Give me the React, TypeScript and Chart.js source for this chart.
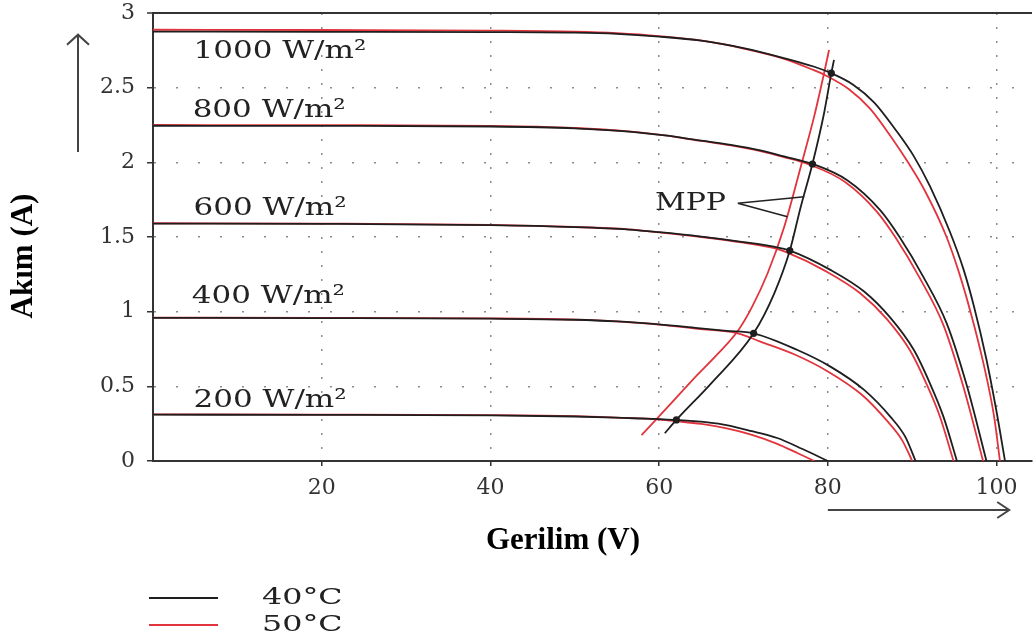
import React, { useEffect, useRef } from "react";
import { Chart, registerables } from "chart.js";

Chart.register(...registerables);

// ---------- data (V = voltage, I = current) ----------
// 40 °C curves
const v1000At40 = [0, 20, 40, 50, 55, 60, 65, 70, 75, 78.4, 80.4, 83, 85.5, 88, 90.2, 92.1, 94.5, 96.1, 97.3, 98.8, 100, 101];
const i1000At40 = [2.875, 2.874, 2.872, 2.868, 2.86, 2.842, 2.815, 2.765, 2.695, 2.64, 2.597, 2.52, 2.4, 2.22, 2.04, 1.84, 1.53, 1.28, 1.04, 0.68, 0.33, 0];
const v800At40 = [0, 20, 40, 50, 56.4, 60.7, 65, 68.5, 72, 74.8, 78.2, 82.3, 86.2, 88.5, 91.3, 94.1, 96.5, 98.8];
const i800At40 = [2.245, 2.244, 2.24, 2.228, 2.206, 2.18, 2.145, 2.117, 2.08, 2.04, 1.989, 1.88, 1.68, 1.5, 1.235, 0.92, 0.5, 0];
const v600At40 = [0, 20, 40, 50, 56.4, 60, 65, 70, 73.6, 75.5, 80.3, 84.3, 87.4, 90.2, 92.1, 93.7, 95.3];
const i600At40 = [1.59, 1.588, 1.579, 1.566, 1.55, 1.532, 1.502, 1.466, 1.435, 1.409, 1.28, 1.135, 0.96, 0.743, 0.52, 0.297, 0];
const v400At40 = [0, 20, 40, 50, 55, 60, 64.6, 68, 71.2, 76.4, 80.3, 84.3, 87.4, 89.2, 90.4];
const i400At40 = [0.958, 0.957, 0.953, 0.946, 0.935, 0.915, 0.89, 0.872, 0.855, 0.743, 0.632, 0.476, 0.297, 0.16, 0];
const v200At40 = [0, 20, 40, 50, 56.4, 60, 62, 67, 71, 74, 77, 80];
const i200At40 = [0.31, 0.309, 0.305, 0.298, 0.287, 0.28, 0.275, 0.25, 0.2, 0.154, 0.08, 0];

// 50 °C curves
const v1000At50 = [0, 20, 40, 50, 55, 60, 66.2, 70, 75, 78, 79.8, 82.5, 85, 87.5, 89.5, 91.5, 94, 95.5, 97, 98.5, 99.7, 100.4];
const i1000At50 = [2.888, 2.886, 2.882, 2.875, 2.865, 2.845, 2.805, 2.762, 2.69, 2.625, 2.58, 2.49, 2.36, 2.17, 2.0, 1.81, 1.51, 1.27, 0.98, 0.64, 0.3, 0];
const v800At50 = [0, 20, 40, 50, 56.4, 60.7, 65, 68.5, 72, 74.8, 77.8, 82, 85.8, 88.1, 90.9, 93.7, 96.1, 98.4];
const i800At50 = [2.25, 2.249, 2.244, 2.23, 2.207, 2.18, 2.143, 2.113, 2.075, 2.035, 1.985, 1.87, 1.67, 1.49, 1.225, 0.91, 0.49, 0];
const v600At50 = [0, 20, 40, 50, 56.4, 60, 65, 70, 73.65, 75, 79.8, 83.8, 87, 89.8, 91.7, 93.3, 94.9];
const i600At50 = [1.592, 1.59, 1.581, 1.567, 1.551, 1.531, 1.5, 1.462, 1.425, 1.4, 1.27, 1.125, 0.95, 0.735, 0.515, 0.295, 0];
const v400At50 = [0, 20, 40, 50, 55, 60, 64.6, 69.3, 72, 76, 80, 84, 87, 88.8, 90];
const i400At50 = [0.96, 0.959, 0.955, 0.947, 0.935, 0.913, 0.885, 0.855, 0.8, 0.715, 0.6, 0.445, 0.27, 0.14, 0];
const v200At50 = [0, 20, 40, 50, 56.4, 58, 60, 62, 65, 68, 71, 74, 76.5, 78.4];
const i200At50 = [0.312, 0.311, 0.307, 0.3, 0.288, 0.285, 0.278, 0.267, 0.248, 0.218, 0.175, 0.115, 0.05, 0];

// MPP loci
const vMppLine40 = [60.67, 62.04, 66.17, 71.2, 73.65, 75.49, 76.79, 78.17, 79.55, 80.41, 80.73];
const iMppLine40 = [0.186, 0.275, 0.52, 0.855, 1.123, 1.409, 1.703, 1.989, 2.329, 2.597, 2.686];
const vMppLine50 = [57.91, 61, 64, 67, 69.32, 71, 72.86, 74.83, 76.79, 78.37, 79.55, 80.14];
const iMppLine50 = [0.174, 0.36, 0.545, 0.72, 0.87, 1.03, 1.257, 1.569, 1.971, 2.306, 2.597, 2.753];

// MPP points (40 °C)
const vMppDots = [62.04, 71.2, 75.49, 78.17, 80.41];
const iMppDots = [0.275, 0.855, 1.409, 1.989, 2.597];

// axis ticks
const xTickValues = [20, 40, 60, 80, 100];

// labels
const irradianceLabels = ["1000 W/m²", "800 W/m²", "600 W/m²", "400 W/m²", "200 W/m²"];
const labelV = [4.8, 4.7, 4.8, 4.6, 4.8];
const labelI = [2.699, 2.304, 1.645, 1.058, 0.362];
const legendLabels = ["40°C", "50°C"];
const xTitle = "Gerilim (V)";
const yTitle = "Akım (A)";

const BLACK = "#1e1e1e";
const RED = "#e2343c";
const AXIS = "#333333";

const pts = (vs: number[], is: number[]) => vs.map((v, k) => ({ x: v, y: is[k] }));

const lineDs = (vs: number[], is: number[], color: string) => ({
  data: pts(vs, is),
  showLine: true,
  borderColor: color,
  backgroundColor: color,
  borderWidth: 1.8,
  pointRadius: 0,
  cubicInterpolationMode: "monotone" as const,
  fill: false,
});

function drawArrowHead(ctx: CanvasRenderingContext2D, x: number, y: number, dir: "up" | "right") {
  ctx.beginPath();
  if (dir === "up") {
    ctx.moveTo(x - 11, y + 10);
    ctx.lineTo(x, y);
    ctx.lineTo(x + 11, y + 10);
  } else {
    ctx.moveTo(x - 12, y - 8);
    ctx.lineTo(x, y);
    ctx.lineTo(x - 12, y + 8);
  }
  ctx.stroke();
}

const decorPlugin = {
  id: "decor",
  afterDraw(chart: any) {
    const { ctx, chartArea } = chart;
    const xs = chart.scales.x;
    const ys = chart.scales.y;
    ctx.save();

    // irradiance labels
    ctx.fillStyle = "#222";
    ctx.font = "25px 'DejaVu Serif'";
    ctx.textBaseline = "alphabetic";
    ctx.textAlign = "left";
    irradianceLabels.forEach((t, k) => {
      ctx.save();
      ctx.translate(xs.getPixelForValue(labelV[k]), ys.getPixelForValue(labelI[k]));
      ctx.scale(1.24, 1);
      ctx.fillText(t, 0, 0);
      ctx.restore();
    });

    // MPP label and leader lines
    ctx.save();
    ctx.translate(xs.getPixelForValue(59.5), ys.getPixelForValue(1.68));
    ctx.scale(1.2, 1);
    ctx.fillText("MPP", 0, 0);
    ctx.restore();
    ctx.strokeStyle = "#222";
    ctx.lineWidth = 1.5;
    const sx = xs.getPixelForValue(69.32);
    const sy = ys.getPixelForValue(1.726);
    ctx.beginPath();
    ctx.moveTo(sx, sy);
    ctx.lineTo(xs.getPixelForValue(77.2), ys.getPixelForValue(1.77));
    ctx.moveTo(sx, sy);
    ctx.lineTo(xs.getPixelForValue(75.22), ys.getPixelForValue(1.636));
    ctx.stroke();

    // arrows
    ctx.strokeStyle = "#444";
    ctx.lineWidth = 2;
    const ax = chartArea.left - 75;
    const ayTop = ys.getPixelForValue(2.855);
    const ayBot = ys.getPixelForValue(2.07);
    ctx.beginPath();
    ctx.moveTo(ax, ayBot);
    ctx.lineTo(ax, ayTop);
    ctx.stroke();
    drawArrowHead(ctx, ax, ayTop, "up");
    const hy = chartArea.bottom + 49;
    const hx0 = xs.getPixelForValue(80);
    const hx1 = xs.getPixelForValue(101.5);
    ctx.beginPath();
    ctx.moveTo(hx0, hy);
    ctx.lineTo(hx1, hy);
    ctx.stroke();
    drawArrowHead(ctx, hx1, hy, "right");

    // axis titles
    ctx.fillStyle = "#000";
    ctx.font = "bold 31px 'Liberation Serif'";
    ctx.textAlign = "center";
    ctx.textBaseline = "middle";
    ctx.fillText(xTitle, 563, chartArea.bottom + 80);
    ctx.save();
    ctx.translate(24, 256);
    ctx.rotate(-Math.PI / 2);
    ctx.fillText(yTitle, 0, 0);
    ctx.restore();

    // legend
    const legendColors = [BLACK, RED];
    const legendY = [598, 625];
    ctx.lineWidth = 2;
    ctx.font = "23px 'DejaVu Serif'";
    ctx.textAlign = "left";
    ctx.textBaseline = "middle";
    legendLabels.forEach((t, k) => {
      ctx.strokeStyle = legendColors[k];
      ctx.beginPath();
      ctx.moveTo(149, legendY[k]);
      ctx.lineTo(218, legendY[k]);
      ctx.stroke();
      ctx.fillStyle = "#222";
      ctx.save();
      ctx.translate(262, legendY[k]);
      ctx.scale(1.38, 1);
      ctx.fillText(t, 0, 0);
      ctx.restore();
    });

    ctx.restore();
  },
};

export default function App() {
  const canvasRef = useRef<HTMLCanvasElement | null>(null);

  useEffect(() => {
    if (!canvasRef.current) return;
    const datasets = [
      {
        data: pts(vMppDots, iMppDots),
        showLine: false,
        pointRadius: 3.6,
        pointBackgroundColor: BLACK,
        pointBorderColor: BLACK,
        borderWidth: 0,
      },
      lineDs(vMppLine40, iMppLine40, BLACK),
      lineDs(v1000At40, i1000At40, BLACK),
      lineDs(v800At40, i800At40, BLACK),
      lineDs(v600At40, i600At40, BLACK),
      lineDs(v400At40, i400At40, BLACK),
      lineDs(v200At40, i200At40, BLACK),
      lineDs(vMppLine50, iMppLine50, RED),
      lineDs(v1000At50, i1000At50, RED),
      lineDs(v800At50, i800At50, RED),
      lineDs(v600At50, i600At50, RED),
      lineDs(v400At50, i400At50, RED),
      lineDs(v200At50, i200At50, RED),
    ];

    const chart = new Chart(canvasRef.current, {
      type: "scatter",
      data: { datasets: datasets as any },
      plugins: [decorPlugin],
      options: {
        animation: false,
        responsive: false,
        devicePixelRatio: 1,
        layout: { padding: 0 },
        plugins: { legend: { display: false }, tooltip: { enabled: false } },
        scales: {
          x: {
            type: "linear",
            min: 0,
            max: 104.2,
            afterBuildTicks: (s: any) => {
              s.ticks = xTickValues.map((v) => ({ value: v }));
            },
            afterFit: (s: any) => {
              s.height = 180;
              s.paddingLeft = 0;
              s.paddingRight = 0;
            },
            ticks: {
              stepSize: 20,
              padding: 9,
              autoSkip: false,
              maxRotation: 0,
              color: "#333",
              font: { family: "'DejaVu Serif'", size: 22 },
            },
            grid: {
              color: "#8c8c8c",
              lineWidth: 1.5,
              drawTicks: true,
              tickLength: 5,
              tickColor: AXIS,
              tickWidth: 1.5,
              tickBorderDash: [],
            },
            border: { display: true, color: AXIS, width: 2, dash: [2, 12] },
          },
          y: {
            type: "linear",
            min: 0,
            max: 3,
            afterFit: (s: any) => {
              s.width = 153;
              s.paddingTop = 13;
              s.paddingBottom = 0;
            },
            ticks: {
              stepSize: 0.5,
              padding: 12,
              color: "#333",
              font: { family: "'DejaVu Serif'", size: 22 },
              callback: (v: any) => String(Number(v)),
            },
            grid: {
              color: (c: any) => (c.tick && c.tick.value === 3 ? AXIS : "#8c8c8c"),
              lineWidth: (c: any) => (c.tick && c.tick.value === 3 ? 2 : 1.5),
              drawTicks: true,
              tickLength: 6,
              tickColor: AXIS,
              tickWidth: 1.5,
              tickBorderDash: [],
            },
            border: {
              display: true,
              color: AXIS,
              width: 2,
              dash: (c: any) => (c.tick && c.tick.value === 3 ? [] : [2, 20]),
            },
          },
        },
      } as any,
    });
    return () => chart.destroy();
  }, []);

  return (
    <div style={{ position: "absolute", left: 0, top: 0, width: 1036, height: 641, background: "#fff" }}>
      <canvas ref={canvasRef} width={1036} height={641} />
    </div>
  );
}
